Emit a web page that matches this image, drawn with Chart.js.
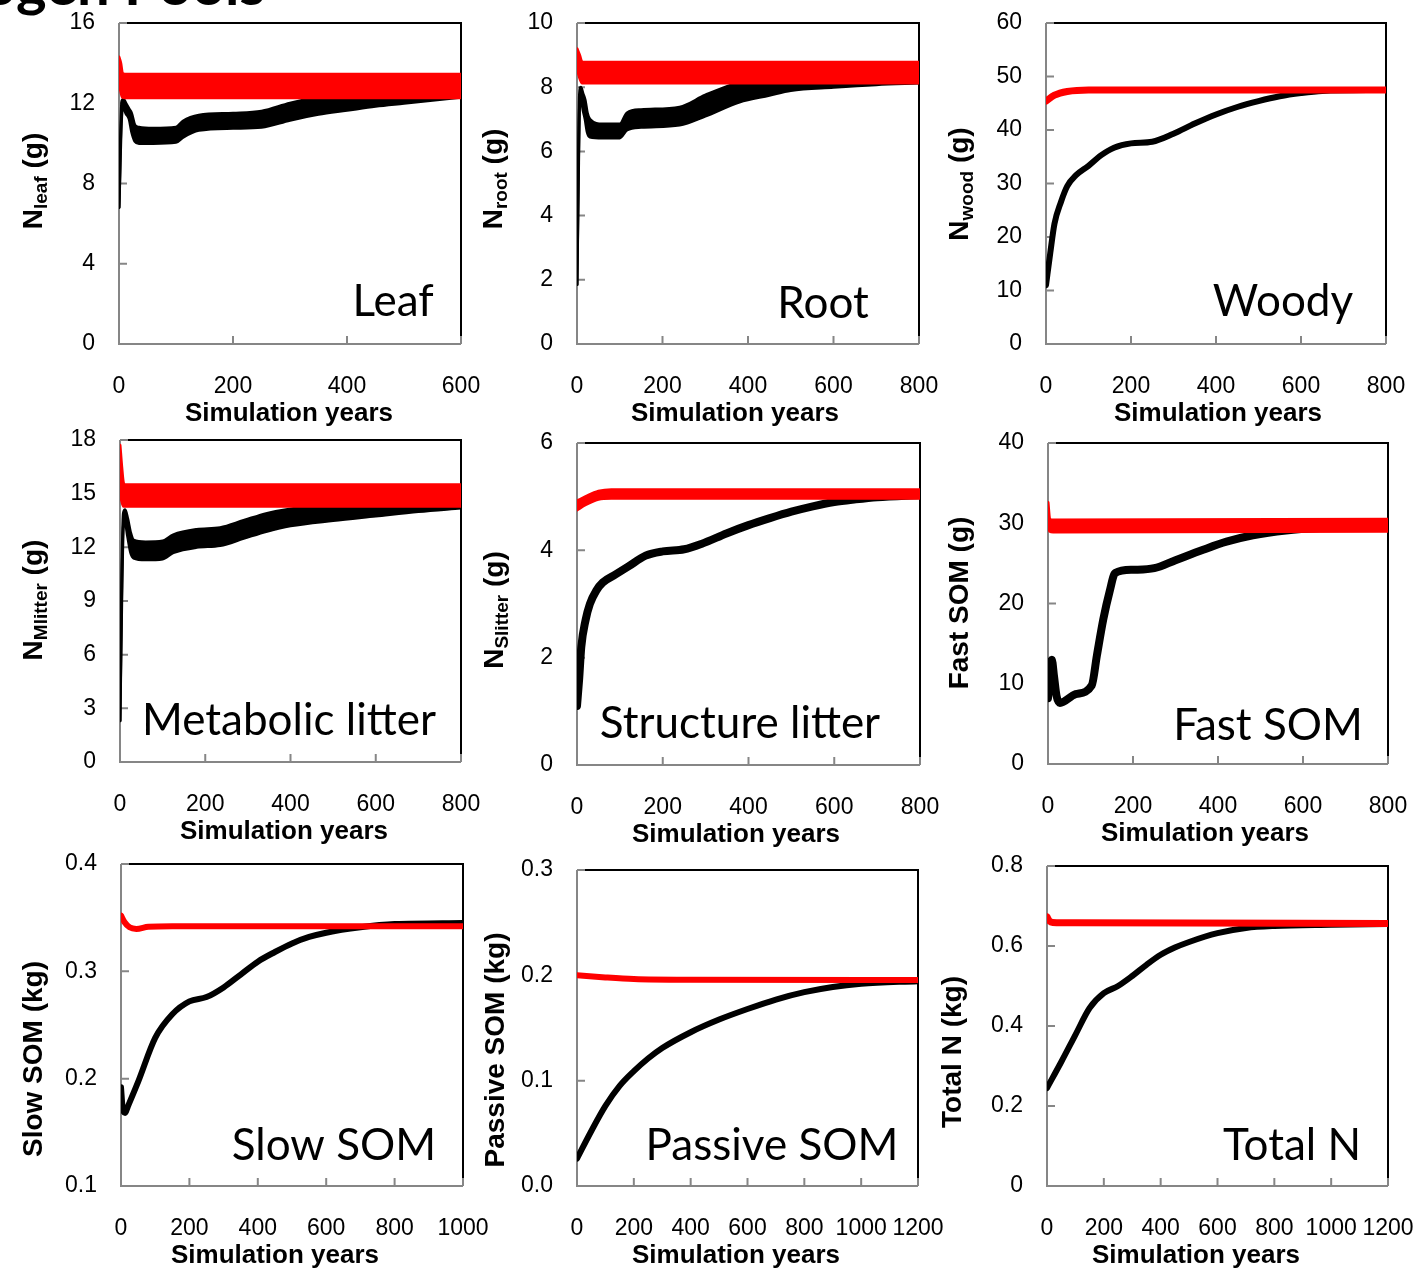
<!DOCTYPE html>
<html>
<head>
<meta charset="utf-8">
<script src="https://cdn.jsdelivr.net/npm/chart.js@4.4.1/dist/chart.umd.min.js"></script>
<style>
  body { margin: 0; width: 1422px; height: 1276px; background: #fff; position: relative; overflow: hidden; }
  canvas { position: absolute; }
  #title { position: absolute; right: 1157px; top: -46px; font: bold 58px Lato; line-height: 1; white-space: nowrap; color: #000; }
</style>
</head>
<body>
<div id="title">Nitrogen Pools</div>
<script>
// ---- data (years, grams / kg) ----
// Leaf
const leafYears   = [0, 5, 8, 12, 18, 22, 28, 35, 60, 100, 112, 140, 200, 250, 300, 350, 400, 450, 500, 550, 600];
const leafBlackLo = [6.8, 11.5, 11.8, 11.5, 11.2, 10.6, 10.1, 10.0, 10.0, 10.05, 10.3, 10.65, 10.75, 10.8, 11.15, 11.45, 11.65, 11.85, 12.0, 12.15, 12.3];
const leafBlackHi = [6.8, 12.1, 12.2, 12.0, 11.7, 11.5, 10.9, 10.8, 10.75, 10.8, 11.1, 11.4, 11.5, 11.6, 12.0, 12.3, 12.5, 12.65, 12.75, 12.85, 12.95];
const leafRedYears = [0, 3, 6, 10, 600];
const leafRedHi    = [14.3, 14.0, 13.5, 13.45, 13.45];
const leafRedLo    = [13.0, 12.6, 12.3, 12.28, 12.28];

// Root
const rootYears   = [0, 3, 6, 9, 14, 19, 24, 30, 60, 100, 117, 150, 240, 300, 380, 450, 500, 600, 700, 800];
const rootBlackLo = [1.85, 5.0, 7.4, 7.7, 7.3, 7.0, 6.6, 6.45, 6.42, 6.42, 6.67, 6.75, 6.82, 7.1, 7.54, 7.75, 7.9, 8.0, 8.08, 8.13];
const rootBlackHi = [1.85, 5.3, 7.8, 8.0, 7.8, 7.6, 7.2, 7.0, 6.85, 6.85, 7.2, 7.3, 7.38, 7.75, 8.15, 8.3, 8.4, 8.45, 8.5, 8.5];
const rootRedYears = [0, 6, 12, 800];
const rootRedHi    = [9.2, 9.0, 8.78, 8.78];
const rootRedLo    = [8.6, 8.3, 8.13, 8.13];

// Woody
const woodyYears = [0, 10, 20, 35, 50, 70, 100, 130, 160, 200, 250, 300, 350, 400, 450, 500, 550, 600, 650, 800];
const woodyBlack = [11.0, 17, 22.5, 26.5, 29.5, 31.5, 33.3, 35.3, 36.7, 37.5, 37.8, 39.3, 41.2, 42.9, 44.3, 45.4, 46.3, 46.9, 47.3, 47.5];
const woodyRedYears = [0, 20, 50, 100, 800];
const woodyRed      = [45.4, 46.5, 47.2, 47.5, 47.5];

// Metabolic litter
const mlitYears   = [0, 4, 8, 12, 18, 25, 32, 60, 100, 125, 180, 235, 290, 345, 400, 500, 600, 700, 800];
const mlitBlackLo = [2.3, 9, 13.2, 13.4, 12.6, 11.7, 11.4, 11.3, 11.35, 11.7, 12.0, 12.1, 12.5, 12.9, 13.2, 13.5, 13.75, 14.0, 14.2];
const mlitBlackHi = [2.3, 10, 13.9, 14.1, 13.6, 12.8, 12.4, 12.3, 12.35, 12.7, 13.0, 13.1, 13.5, 13.9, 14.15, 14.4, 14.6, 14.7, 14.8];
const mlitRedYears = [0, 4, 8, 12, 800];
const mlitRedHi    = [17.7, 16.5, 15.6, 15.5, 15.5];
const mlitRedLo    = [15.0, 14.6, 14.3, 14.3, 14.3];

// Structure litter
const slitYears = [0, 5, 10, 20, 30, 45, 60, 90, 120, 160, 200, 250, 290, 350, 400, 450, 500, 550, 600, 650, 700, 800];
const slitBlack = [1.1, 1.6, 2.2, 2.7, 3.0, 3.25, 3.4, 3.55, 3.7, 3.9, 3.98, 4.02, 4.12, 4.32, 4.47, 4.6, 4.72, 4.82, 4.9, 4.95, 4.99, 5.03];
const slitRedYears = [0, 20, 50, 80, 800];
const slitRedHi    = [4.92, 5.0, 5.1, 5.13, 5.13];
const slitRedLo    = [4.75, 4.85, 4.95, 4.97, 4.97];

// Fast SOM
const fastYears = [0, 4, 9, 14, 20, 28, 65, 103, 115, 130, 145, 158, 200, 250, 300, 365, 420, 482, 560, 640, 800];
const fastBlack = [8.2, 11.0, 13.0, 11.0, 8.5, 7.6, 8.7, 9.8, 13.5, 18.0, 21.5, 23.8, 24.2, 24.4, 25.4, 26.7, 27.7, 28.5, 29.1, 29.4, 29.6];
const fastRedYears = [0, 4, 12, 800];
const fastRedHi    = [32.6, 30.5, 30.4, 30.5];
const fastRedLo    = [30.0, 29.0, 28.9, 29.0];

// Slow SOM
const slowYears = [0, 5, 12, 20, 50, 100, 150, 200, 250, 300, 350, 400, 450, 500, 550, 600, 700, 800, 1000];
const slowBlack = [0.192, 0.172, 0.168, 0.174, 0.197, 0.238, 0.26, 0.272, 0.276, 0.285, 0.297, 0.309, 0.318, 0.326, 0.332, 0.336, 0.341, 0.344, 0.345];
const slowRedYears = [0, 10, 25, 45, 80, 150, 1000];
const slowRed      = [0.352, 0.346, 0.341, 0.3395, 0.3415, 0.342, 0.342];

// Passive SOM
const passYears = [0, 50, 100, 150, 200, 250, 300, 400, 500, 600, 700, 800, 900, 1000, 1200];
const passBlack = [0.026, 0.052, 0.076, 0.095, 0.109, 0.121, 0.131, 0.146, 0.158, 0.168, 0.177, 0.184, 0.189, 0.192, 0.1945];
const passRedYears = [0, 100, 200, 400, 1200];
const passRed      = [0.2, 0.198, 0.1965, 0.1958, 0.1955];

// Total N
const totYears = [0, 50, 100, 150, 200, 250, 300, 350, 400, 450, 500, 600, 700, 800, 1000, 1200];
const totBlack = [0.245, 0.31, 0.378, 0.445, 0.482, 0.5, 0.525, 0.553, 0.578, 0.596, 0.61, 0.632, 0.645, 0.65, 0.653, 0.655];
const totRedYears = [0, 8, 20, 100, 1200];
const totRed      = [0.673, 0.663, 0.659, 0.658, 0.656];

// tick values and labels
const xTicks600  = [0, 200, 400, 600];
const xTicks800  = [0, 200, 400, 600, 800];
const xTicks1000 = [0, 200, 400, 600, 800, 1000];
const xTicks1200 = [0, 200, 400, 600, 800, 1000, 1200];
const leafYTicks = [0, 4, 8, 12, 16];
const rootYTicks = [0, 2, 4, 6, 8, 10];
const woodyYTicks = [0, 10, 20, 30, 40, 50, 60];
const mlitYTicks = [0, 3, 6, 9, 12, 15, 18];
const slitYTicks = [0, 2, 4, 6];
const fastYTicks = [0, 10, 20, 30, 40];
const slowYTicks = [0.1, 0.2, 0.3, 0.4];
const slowYLabels = ['0.1', '0.2', '0.3', '0.4'];
const passYTicks = [0, 0.1, 0.2, 0.3];
const passYLabels = ['0.0', '0.1', '0.2', '0.3'];
const totYTicks = [0, 0.2, 0.4, 0.6, 0.8];
const totYLabels = ['0', '0.2', '0.4', '0.6', '0.8'];

// ---- layout ----
const PADL = 130, PADT = 25, PADR = 50, PADB = 95;
const GRAY = '#868686';

// plot box [left, top, right, bottom] in page pixels
const panels = [
  { name: 'Leaf', box: [119, 23, 461, 344], yTitle: [['N', 0], ['leaf', 1], [' (g)', 0]], yt: [32, 181], xt: 289, label: [393, 316],
    xTicks: xTicks600, yTicks: leafYTicks,
    black: [leafYears, leafBlackLo, leafBlackHi], red: [leafRedYears, leafRedLo, leafRedHi] },
  { name: 'Root', box: [577, 23, 919, 344], yTitle: [['N', 0], ['root', 1], [' (g)', 0]], yt: [492, 179], xt: 735, label: [823, 318],
    xTicks: xTicks800, yTicks: rootYTicks,
    black: [rootYears, rootBlackLo, rootBlackHi], red: [rootRedYears, rootRedLo, rootRedHi] },
  { name: 'Woody', box: [1046, 23, 1386, 344], yTitle: [['N', 0], ['wood', 1], [' (g)', 0]], yt: [958, 184], xt: 1218, label: [1283, 316],
    xTicks: xTicks800, yTicks: woodyYTicks,
    black: [woodyYears, woodyBlack], red: [woodyRedYears, woodyRed], bw: 6, rw: 7 },
  { name: 'Metabolic litter', box: [120, 440, 461, 762], yTitle: [['N', 0], ['Mlitter', 1], [' (g)', 0]], yt: [32, 600], xt: 284, label: [289, 735],
    xTicks: xTicks800, yTicks: mlitYTicks,
    black: [mlitYears, mlitBlackLo, mlitBlackHi], red: [mlitRedYears, mlitRedLo, mlitRedHi] },
  { name: 'Structure litter', box: [577, 443, 920, 765], yTitle: [['N', 0], ['Slitter', 1], [' (g)', 0]], yt: [493, 610], xt: 736, label: [740, 738],
    xTicks: xTicks800, yTicks: slitYTicks,
    black: [slitYears, slitBlack], red: [slitRedYears, slitRedLo, slitRedHi], bw: 8 },
  { name: 'Fast SOM', box: [1048, 443, 1388, 764], yTitle: [['Fast SOM (g)', 0]], yt: [958, 603], xt: 1205, label: [1268, 740],
    xTicks: xTicks800, yTicks: fastYTicks,
    black: [fastYears, fastBlack], red: [fastRedYears, fastRedLo, fastRedHi], bw: 8 },
  { name: 'Slow SOM', box: [121, 864, 463, 1186], yTitle: [['Slow SOM (kg)', 0]], yt: [32, 1059], xt: 275, label: [334, 1160],
    xTicks: xTicks1000, yTicks: slowYTicks, yLabels: slowYLabels,
    black: [slowYears, slowBlack], red: [slowRedYears, slowRed], bw: 6, rw: 6 },
  { name: 'Passive SOM', box: [577, 870, 918, 1186], yTitle: [['Passive SOM (kg)', 0]], yt: [494, 1050], xt: 736, label: [772, 1160],
    xTicks: xTicks1200, yTicks: passYTicks, yLabels: passYLabels,
    black: [passYears, passBlack], red: [passRedYears, passRed], bw: 6, rw: 6 },
  { name: 'Total N', box: [1047, 866, 1388, 1186], yTitle: [['Total N (kg)', 0]], yt: [951, 1052], xt: 1196, label: [1292, 1160],
    xTicks: xTicks1200, yTicks: totYTicks, yLabels: totYLabels,
    black: [totYears, totBlack], red: [totRedYears, totRed], bw: 6, rw: 7 }
];

// frame, inner tick marks and all titles
const panelDeco = {
  id: 'panelDeco',
  beforeDatasetsDraw(chart, args, o) {
    const { ctx, chartArea: a, scales: { x, y } } = chart;
    ctx.save();
    ctx.lineWidth = 2;
    ctx.strokeStyle = '#000';
    ctx.beginPath();
    ctx.moveTo(a.left, a.top); ctx.lineTo(a.right, a.top); ctx.lineTo(a.right, a.bottom);
    ctx.stroke();
    ctx.strokeStyle = GRAY;
    ctx.beginPath();
    ctx.moveTo(a.left, a.top); ctx.lineTo(a.left, a.bottom); ctx.lineTo(a.right, a.bottom);
    x.ticks.forEach(t => { const px = x.getPixelForValue(t.value); ctx.moveTo(px, a.bottom); ctx.lineTo(px, a.bottom - 8); });
    y.ticks.forEach(t => { const py = y.getPixelForValue(t.value); ctx.moveTo(a.left, py); ctx.lineTo(a.left + 8, py); });
    ctx.stroke();
    ctx.restore();
  },
  afterDraw(chart, args, o) {
    const ctx = chart.ctx;
    const p = o.p;
    const ox = p.box[0] - PADL, oy = p.box[1] - PADT;
    ctx.save();
    ctx.fillStyle = '#000';
    // panel name
    ctx.font = '44px Lato';
    ctx.textAlign = 'center';
    ctx.textBaseline = 'alphabetic';
    ctx.fillText(p.name, p.label[0] - ox, p.label[1] - oy);
    // x title
    ctx.font = 'bold 26px "Liberation Sans"';
    ctx.textBaseline = 'middle';
    ctx.fillText('Simulation years', p.xt - ox, p.box[3] + 70 - oy);
    // y title, with subscript
    const big = 'bold 28px "Liberation Sans"', small = 'bold 19px "Liberation Sans"';
    let total = 0;
    p.yTitle.forEach(([t, sub]) => { ctx.font = sub ? small : big; total += ctx.measureText(t).width; });
    ctx.translate(p.yt[0] - ox, p.yt[1] - oy);
    ctx.rotate(-Math.PI / 2);
    ctx.textAlign = 'left';
    ctx.textBaseline = 'alphabetic';
    let cx = -total / 2;
    p.yTitle.forEach(([t, sub]) => {
      ctx.font = sub ? small : big;
      ctx.fillText(t, cx, sub ? 15 : 10);
      cx += ctx.measureText(t).width;
    });
    ctx.restore();
  }
};

function pts(xs, ys) {
  return xs.map((x, i) => ({ x: x, y: ys[i] }));
}

// a thin line, or a filled band between a low and a high edge
function series(s, color, width, order) {
  const base = { borderColor: color, pointRadius: 0, cubicInterpolationMode: 'monotone',
                 borderJoinStyle: 'round', borderCapStyle: 'round', fill: false, order: order };
  if (s.length === 2) {
    return [Object.assign({}, base, { data: pts(s[0], s[1]), borderWidth: width })];
  }
  return [
    Object.assign({}, base, { data: pts(s[0], s[1]), borderWidth: 3 }),
    Object.assign({}, base, { data: pts(s[0], s[2]), borderWidth: 3, backgroundColor: color, fill: '-1' })
  ];
}

const tickFont = { family: '"Liberation Sans"', size: 23 };

panels.forEach(p => {
  const cv = document.createElement('canvas');
  const w = p.box[2] - p.box[0] + PADL + PADR;
  const h = p.box[3] - p.box[1] + PADT + PADB;
  cv.width = w; cv.height = h;
  cv.style.left = (p.box[0] - PADL) + 'px';
  cv.style.top = (p.box[1] - PADT) + 'px';
  document.body.appendChild(cv);

  const datasets = series(p.black, '#000000', p.bw || 7, 2).concat(series(p.red, '#ff0000', p.rw || 7, 1));
  const yLabels = p.yLabels || p.yTicks.map(String);

  new Chart(cv, {
    type: 'line',
    data: { datasets: datasets },
    options: {
      responsive: false,
      animation: false,
      devicePixelRatio: 1,
      layout: { padding: { left: 0, top: PADT, right: PADR, bottom: 0 } },
      plugins: { legend: { display: false }, tooltip: { enabled: false }, panelDeco: { p: p } },
      scales: {
        x: {
          type: 'linear',
          min: p.xTicks[0], max: p.xTicks[p.xTicks.length - 1],
          afterBuildTicks: s => { s.ticks = p.xTicks.map(v => ({ value: v })); },
          afterFit: s => { s.height = PADB; s.paddingLeft = 0; s.paddingRight = 0; },
          grid: { display: false, drawTicks: false },
          border: { display: false },
          ticks: { font: tickFont, color: '#000', padding: 29, autoSkip: false, maxRotation: 0,
                   callback: (v, i) => String(p.xTicks[i]) }
        },
        y: {
          type: 'linear',
          min: p.yTicks[0], max: p.yTicks[p.yTicks.length - 1],
          afterBuildTicks: s => { s.ticks = p.yTicks.map(v => ({ value: v })); },
          afterFit: s => { s.width = PADL; s.paddingTop = 0; s.paddingBottom = 0; },
          grid: { display: false, drawTicks: false },
          border: { display: false },
          ticks: { font: tickFont, color: '#000', padding: 24, autoSkip: false,
                   callback: (v, i) => yLabels[i] }
        }
      }
    },
    plugins: [panelDeco]
  });
});
</script>
</body>
</html>
